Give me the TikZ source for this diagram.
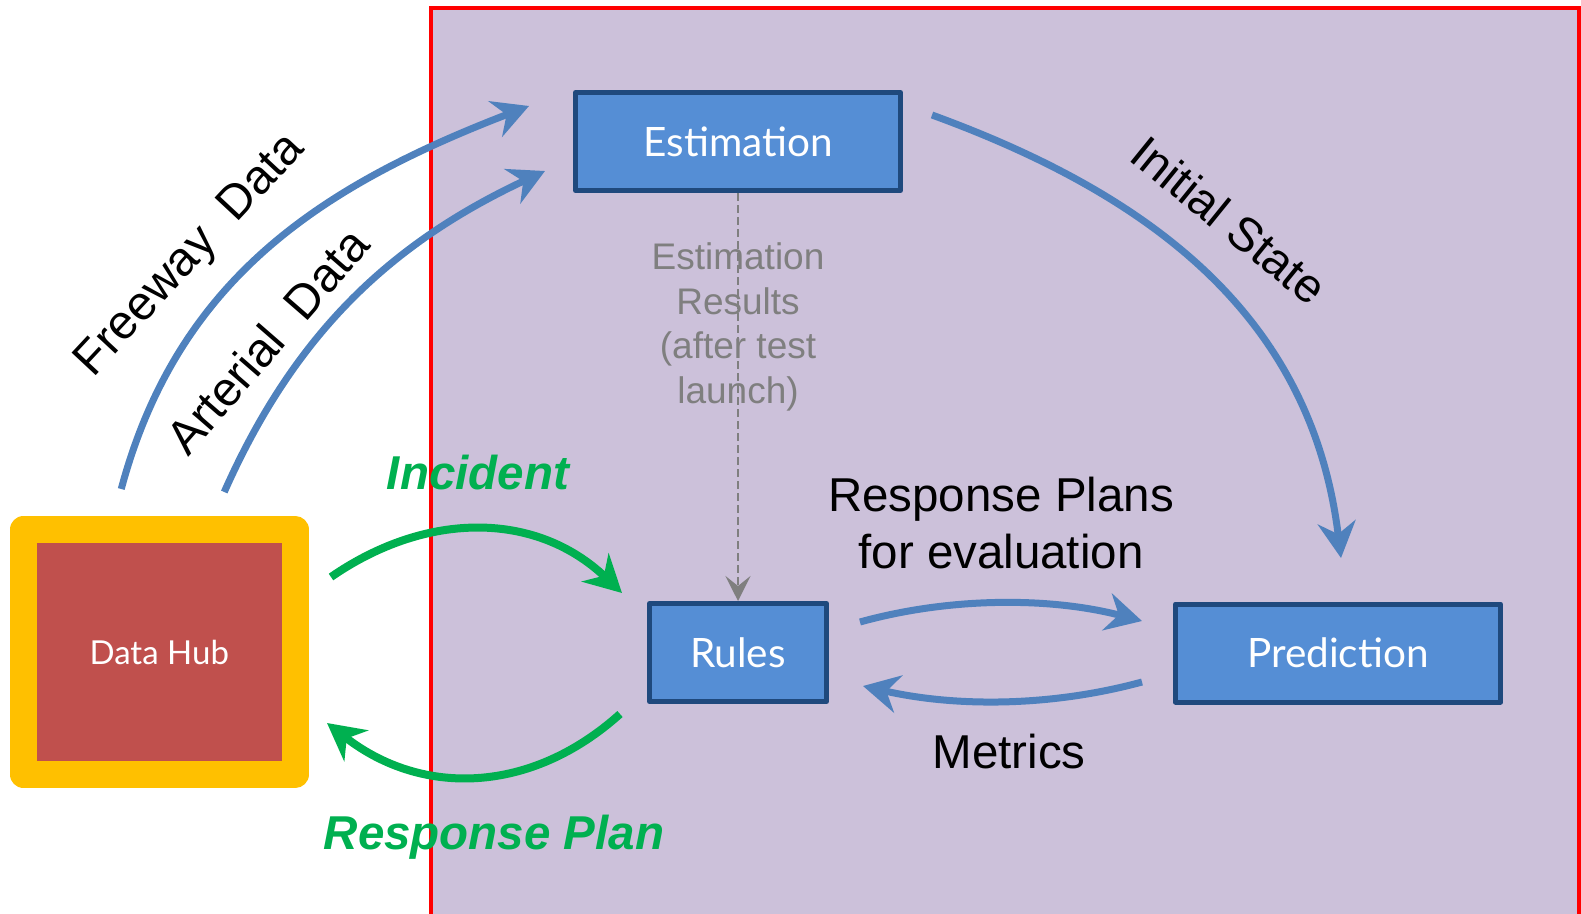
\documentclass[tikz,border=0pt]{standalone}
\usepackage{fontspec}
\setmainfont{Liberation Sans}
\newfontfamily\boxfont{Lato}
\usetikzlibrary{arrows.meta,calc}

\definecolor{boxblue}{HTML}{558ED5}
\definecolor{boxedge}{HTML}{1F497D}
\definecolor{flowblue}{HTML}{4F81BD}
\definecolor{zonepurple}{HTML}{CCC1DA}
\definecolor{hubred}{HTML}{C0504D}
\definecolor{hubyellow}{HTML}{FFC000}
\definecolor{flowgreen}{HTML}{00B050}
\definecolor{notegray}{HTML}{7F7F7F}

\tikzset{
	modbox/.style={draw=boxedge, fill=boxblue, line width=5pt, line join=round,
		minimum width=325pt, minimum height=98pt, inner sep=0pt,
		text=white, font=\boxfont\fontsize{40.5}{48}\selectfont},
	bluearrow/.style={draw=flowblue, line width=7pt,
		-{Stealth[length=36pt,width=38pt,inset=12pt]}},
	greenarrow/.style={draw=flowgreen, line width=8pt,
		-{Stealth[length=37pt,width=39pt,inset=12pt]}},
	biglabel/.style={font=\fontsize{47.5}{57}\selectfont, align=center},
	greenlabel/.style={text=flowgreen, font=\bfseries\itshape\fontsize{47.5}{57}\selectfont}}
\tikzset{every picture/.style={line width=0.75pt}}

\begin{document}
\begin{tikzpicture}[x=1pt,y=1pt,yscale=-1,xscale=1]
	\useasboundingbox (0,0) rectangle (1581,913);

	%Shape: Rectangle
	\draw [draw=red, fill=zonepurple, line width=3.5pt] (431,8) rectangle (1579,918);

	%Boxes
	\node [modbox] (est) at (738,141.5) {Estimation};
	\node [modbox, minimum width=177pt] (rules) at (738,652.5) {Rules};
	\node [modbox] (pred) at (1338,653) {Prediction};
	\node [draw=hubyellow, fill=hubred, line width=27pt, line join=round,
		minimum width=271.5pt, minimum height=245pt, inner sep=0pt,
		text=white, font=\boxfont\fontsize{33}{40}\selectfont] (hub) at (159.25,652) {Data Hub};

	%Straight Lines
	\draw [notegray, line width=2.5pt, dash pattern=on 8pt off 4pt,
		-{Stealth[length=25pt,width=25pt,inset=10pt]}] (est) -- (rules);

	%Curve Lines
	\draw [bluearrow] ($(hub.north)+(-38,-27)$) .. controls (178,277) and (324,185) .. ($(est.west)+(-44,-35.5)$);
	%Curve Lines
	\draw [bluearrow] ($(hub.north)+(65,-24)$) .. controls (294,335) and (389,244) .. ($(est.west)+(-28,29.5)$);
	%Curve Lines
	\draw [bluearrow] ($(est.east)+(29,-26.5)$) .. controls (1157,197) and (1312,320) .. ($(pred.north)+(3,-43.5)$);
	%Curve Lines
	\draw [bluearrow] ($(rules.east)+(31,-30.5)$) .. controls (950,597) and (1050,597) .. ($(pred.west)+(-31,-32)$);
	%Curve Lines
	\draw [bluearrow] ($(pred.west)+(-31,29)$) .. controls (1050,707) and (955,707) .. ($(rules.east)+(34,33.5)$);
	%Curve Lines
	\draw [greenarrow] ($(hub.east)+(22.5,-75)$) .. controls (428,510) and (537,512) .. ($(rules.west)+(-25,-59.5)$);
	%Curve Lines
	\draw [greenarrow] ($(rules.west)+(-27,61.5)$) .. controls (531,794) and (422,797) .. ($(hub.east)+(18.5,71)$);

	% Text Node
	\node [notegray, font=\fontsize{37}{44.4}\selectfont, align=center] (estnote) at (738,327)
		{Estimation\\Results\\(after test\\launch)};
	% Text Node
	\node [biglabel] (plannote) at (1001,523.5) {Response Plans\\for evaluation};
	% Text Node
	\node [biglabel, anchor=base] (metricnote) at (1009,768) {Metrics};
	% Text Node
	\node [biglabel, rotate=-39] (initnote) at (1229,220) {Initial State};
	% Text Node
	\node [biglabel, font=\fontsize{48}{57}\selectfont, rotate=47] (fwnote) at (191,256) {Freeway\ \ Data};
	% Text Node
	\node [biglabel, font=\fontsize{48}{57}\selectfont, rotate=49] (artnote) at (267,341) {Arterial\ \ Data};
	% Text Node
	\node [greenlabel, anchor=base] (incnote) at (478,489) {Incident};
	% Text Node
	\node [greenlabel, anchor=base] (resnote) at (494,849) {Response Plan};

\end{tikzpicture}
\end{document}
